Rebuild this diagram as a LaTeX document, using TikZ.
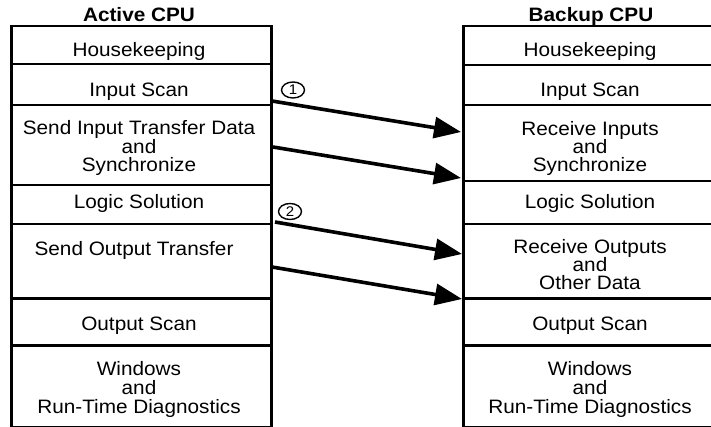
\documentclass[tikz,border=0pt]{standalone}
\usepackage{fontspec}
\setmainfont{Liberation Sans}[FakeStretch=1.07]
\usetikzlibrary{arrows.meta,shapes.geometric}
\tikzset{
  cell/.style={draw, line width=2.5pt, rectangle, anchor=north west, inner sep=0pt},
  txt/.style={anchor=base, inner sep=0pt, font=\fontsize{19.4}{20}\selectfont},
  ttl/.style={anchor=base, inner sep=0pt, font=\fontsize{19.4}{20}\selectfont\bfseries},
  xfer/.style={line width=3.6pt, -{Triangle[length=27pt,width=21pt]}},
  num/.style={ellipse, draw, line width=1.4pt, minimum width=23pt, minimum height=16pt, inner sep=0pt, font=\fontsize{14}{14}\selectfont}
}
\begin{document}
\begin{tikzpicture}[x=1pt,y=-1pt]
\useasboundingbox (0,0) rectangle (711,427);
\clip (0,0) rectangle (711,427);
% left column cells
\node[cell, minimum width=260pt, minimum height=38pt] (L1) at (10,25) {};
\node[cell, minimum width=260pt, minimum height=41pt] (L2) at (10,63) {};
\node[cell, minimum width=260pt, minimum height=80pt] (L3) at (10,104) {};
\node[cell, minimum width=260pt, minimum height=39pt] (L4) at (10,184) {};
\node[cell, minimum width=260pt, minimum height=74pt] (L5) at (10,223) {};
\node[cell, minimum width=260pt, minimum height=47pt] (L6) at (10,297) {};
\node[cell, minimum width=260pt, minimum height=81.5pt] (L7) at (10,344) {};
% right column cells
\node[cell, minimum width=256pt, minimum height=39pt] (R1) at (462,25) {};
\node[cell, minimum width=256pt, minimum height=40pt] (R2) at (462,64) {};
\node[cell, minimum width=256pt, minimum height=76pt] (R3) at (462,104) {};
\node[cell, minimum width=256pt, minimum height=43pt] (R4) at (462,180) {};
\node[cell, minimum width=256pt, minimum height=74pt] (R5) at (462,223) {};
\node[cell, minimum width=256pt, minimum height=47pt] (R6) at (462,297) {};
\node[cell, minimum width=256pt, minimum height=81.5pt] (R7) at (462,344) {};
% titles
\node[ttl] (tA) at (139,21.5) {Active CPU};
\node[ttl] (tB) at (591,21.5) {Backup CPU};
% left texts
\node[txt] (l1) at (139,57) {Housekeeping};
\node[txt] (l2) at (139,96.7) {Input Scan};
\node[txt] (l3a) at (139,135) {Send Input Transfer Data};
\node[txt] (l3b) at (139,153.5) {and};
\node[txt] (l3c) at (139,171.7) {Synchronize};
\node[txt] (l4) at (139,209) {Logic Solution};
\node[txt] (l5) at (134,255) {Send Output Transfer};
\node[txt] (l6) at (139,330) {Output Scan};
\node[txt] (l7a) at (139,375.5) {Windows};
\node[txt] (l7b) at (139,394) {and};
\node[txt] (l7c) at (139,413.3) {Run-Time Diagnostics};
% right texts
\node[txt] (r1) at (590,57) {Housekeeping};
\node[txt] (r2) at (590,96.7) {Input Scan};
\node[txt] (r3a) at (590,135.5) {Receive Inputs};
\node[txt] (r3b) at (590,154) {and};
\node[txt] (r3c) at (590,171.7) {Synchronize};
\node[txt] (r4) at (590,209) {Logic Solution};
\node[txt] (r5a) at (590,254) {Receive Outputs};
\node[txt] (r5b) at (590,272) {and};
\node[txt] (r5c) at (590,290) {Other Data};
\node[txt] (r6) at (590,330) {Output Scan};
\node[txt] (r7a) at (590,375.5) {Windows};
\node[txt] (r7b) at (590,394) {and};
\node[txt] (r7c) at (590,413.3) {Run-Time Diagnostics};
% arrow endpoints
\coordinate (a1s) at (272,101);
\coordinate (a1e) at (461,132);
\coordinate (a2s) at (273,147);
\coordinate (a2e) at (461,178);
\coordinate (a3s) at (275,222);
\coordinate (a3e) at (462,254);
\coordinate (a4s) at (272,267);
\coordinate (a4e) at (462,299);
\draw[xfer] (a1s) -- (a1e);
\draw[xfer] (a2s) -- (a2e);
\draw[xfer] (a3s) -- (a3e);
\draw[xfer] (a4s) -- (a4e);
% circled numbers
\node[num] (n1) at (293,90) {1};
\node[num] (n2) at (290,211.5) {2};
\end{tikzpicture}
\end{document}
